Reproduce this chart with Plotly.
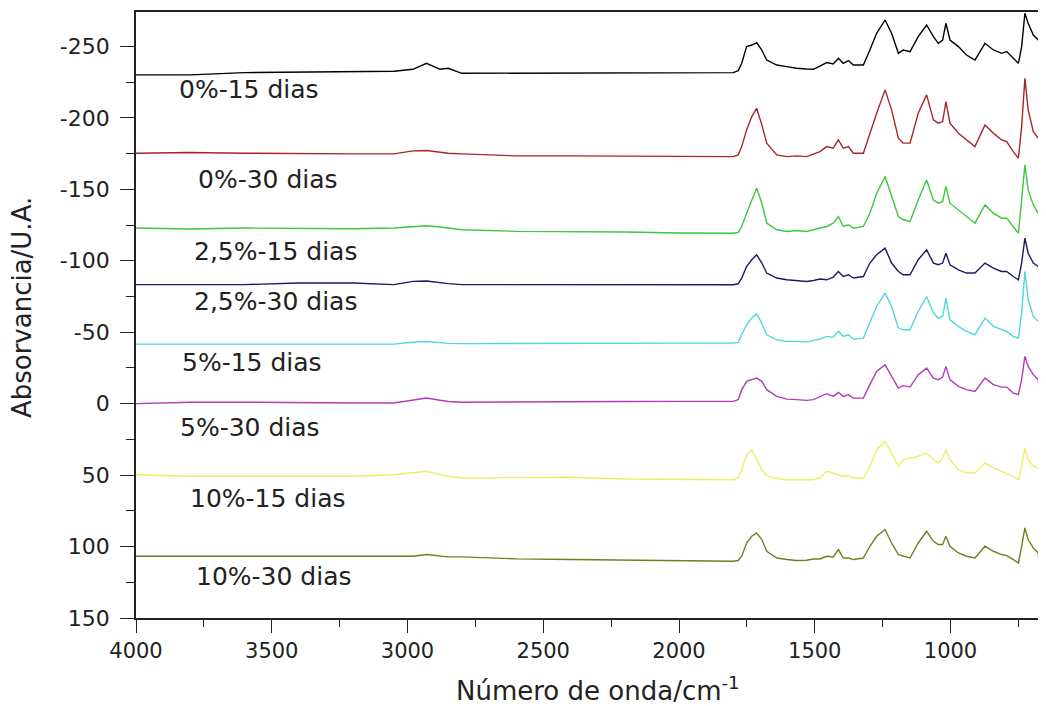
import plotly.graph_objects as go

# Wavenumbers (cm-1), shared by all spectra
wavenumber = [4000, 3800, 3600, 3400, 3200, 3050, 2980, 2930, 2880, 2850, 2800, 2600, 2400, 2200, 2000,
              1923, 1800, 1782, 1769, 1751, 1732, 1714, 1695, 1677, 1640, 1603, 1567, 1530, 1505, 1481,
              1456, 1432, 1413, 1395, 1376, 1358, 1321, 1297, 1272, 1241, 1217, 1192, 1174, 1149, 1119,
              1088, 1063, 1045, 1029, 1017, 1002, 971, 941, 910, 873, 842, 812, 793, 769, 750,
              738, 726, 714, 695, 677, 672, 667, 649]

abs_0_15 = [-230.1, -230.1, -231.7, -232.2, -232.6, -232.6, -234.0, -238.2, -234.0, -234.7, -231.2, -231.2, -231.2, -231.2, -231.4,
            -231.7, -231.7, -233.1, -238.2, -249.9, -251.0, -252.7, -247.5, -240.5, -237.0, -235.9, -234.7, -234.2, -234.0, -236.3,
            -238.7, -237.7, -241.7, -238.2, -240.1, -237.0, -237.0, -247.5, -259.2, -268.5, -259.2, -245.2, -247.5, -246.4, -256.9,
            -265.0, -256.9, -252.2, -254.5, -266.2, -254.5, -249.9, -244.0, -240.5, -252.2, -247.5, -245.2, -246.4, -241.7, -238.2,
            -249.9, -273.2, -266.2, -258.0, -254.5, -254.0, -253.5, -252.7]

abs_0_30 = [-175.3, -175.8, -175.3, -174.8, -174.8, -174.8, -176.9, -177.2, -175.8, -175.3, -174.8, -173.4, -173.4, -173.4, -173.0,
            -172.9, -172.9, -174.1, -179.9, -191.6, -200.9, -206.7, -195.1, -182.3, -174.1, -172.9, -173.4, -172.9, -174.8, -176.4,
            -179.9, -178.8, -184.6, -178.8, -179.9, -175.3, -175.3, -189.3, -203.2, -219.6, -205.6, -185.8, -182.3, -182.3, -203.2,
            -216.1, -198.6, -196.3, -197.4, -211.4, -196.3, -189.3, -184.6, -179.9, -195.1, -189.3, -184.6, -183.4, -176.4, -171.8,
            -193.9, -227.7, -205.6, -190.4, -185.8, -185.5, -185.2, -184.6]

abs_25_15 = [-122.9, -122.2, -122.9, -122.4, -122.4, -122.9, -124.0, -124.5, -123.6, -122.9, -121.7, -120.6, -120.6, -120.1, -119.4,
             -119.3, -119.3, -119.8, -124.0, -133.3, -142.6, -150.8, -140.3, -126.3, -121.7, -120.5, -121.2, -120.5, -121.7, -122.8,
             -124.0, -126.3, -131.0, -124.0, -125.2, -122.8, -124.0, -133.3, -147.3, -159.0, -145.0, -131.0, -128.7, -127.5, -142.6,
             -156.6, -142.6, -140.3, -141.5, -152.0, -140.3, -135.6, -131.0, -126.3, -139.1, -133.3, -129.8, -129.8, -124.0, -119.3,
             -142.6, -167.1, -149.6, -139.1, -133.3, -133.3, -133.3, -133.3]

abs_25_30 = [-83.3, -83.3, -83.3, -84.4, -84.4, -83.3, -85.6, -85.8, -84.4, -84.0, -83.3, -83.3, -83.3, -83.3, -83.3,
             -83.2, -83.2, -83.9, -87.9, -96.0, -100.7, -104.2, -98.4, -91.4, -87.9, -86.7, -86.2, -85.5, -86.2, -87.2,
             -86.7, -88.6, -92.5, -89.0, -90.2, -87.9, -89.0, -98.4, -104.2, -108.8, -98.4, -92.5, -90.2, -90.2, -100.7,
             -107.7, -98.4, -97.2, -98.4, -105.3, -97.2, -93.7, -91.4, -91.4, -98.4, -94.9, -92.5, -92.5, -89.0, -86.7,
             -98.4, -115.8, -105.3, -98.4, -96.0, -95.5, -95.2, -94.9]

abs_5_15 = [-41.7, -41.7, -41.7, -41.7, -41.7, -41.7, -43.0, -43.5, -42.7, -42.2, -42.0, -42.2, -42.2, -42.4, -42.4,
            -42.4, -42.4, -42.9, -48.2, -55.2, -59.9, -62.9, -56.4, -48.2, -44.7, -43.6, -43.6, -43.1, -44.3, -45.2,
            -47.1, -46.6, -50.6, -47.1, -48.2, -45.2, -45.9, -56.4, -68.0, -77.4, -68.0, -52.9, -51.7, -51.7, -64.5,
            -75.0, -63.4, -59.9, -61.0, -73.9, -58.7, -54.1, -50.6, -48.2, -59.9, -54.1, -51.7, -50.6, -47.1, -45.9,
            -63.4, -92.5, -72.7, -61.0, -57.5, -57.0, -56.7, -56.4]

abs_5_30 = [0.0, -1.0, -1.0, -0.5, -0.5, -0.5, -2.5, -4.0, -2.4, -1.5, -1.0, -1.0, -1.3, -1.5, -1.6,
            -1.6, -1.6, -2.8, -9.8, -15.6, -16.8, -17.9, -15.6, -9.8, -5.1, -3.2, -2.8, -2.3, -2.8, -5.1,
            -7.0, -5.1, -7.9, -5.1, -6.3, -3.9, -3.9, -13.3, -22.6, -27.2, -19.1, -10.9, -12.6, -11.6, -20.3,
            -24.9, -17.9, -16.8, -18.6, -26.1, -16.8, -12.1, -9.8, -8.6, -17.9, -13.3, -11.6, -11.6, -7.4, -6.3,
            -16.8, -33.1, -26.1, -20.3, -16.8, -3.9, -15.6, -15.6]

abs_10_15 = [49.7, 50.8, 50.8, 50.8, 50.8, 49.7, 48.5, 47.3, 49.7, 50.8, 52.0, 52.0, 51.5, 52.7, 53.2,
             53.2, 53.2, 52.0, 46.2, 35.7, 32.7, 38.7, 46.2, 50.4, 52.5, 53.2, 53.2, 53.2, 53.2, 52.0,
             47.3, 48.5, 49.7, 50.8, 50.4, 52.0, 52.0, 43.9, 32.2, 26.4, 34.5, 43.9, 39.2, 38.0, 36.9,
             34.5, 39.2, 41.5, 38.0, 32.2, 39.2, 46.2, 48.5, 48.5, 41.5, 45.0, 47.3, 48.5, 50.8, 53.2,
             43.9, 31.0, 39.2, 43.9, 45.0, 53.2, 46.2, 45.0]

abs_10_30 = [106.8, 106.8, 106.8, 106.8, 106.8, 107.2, 106.8, 105.6, 106.8, 107.2, 107.2, 108.6, 109.1, 109.6, 110.0,
             110.3, 110.3, 109.8, 106.8, 97.5, 92.8, 90.5, 95.1, 103.3, 108.0, 109.1, 109.8, 109.6, 108.7, 108.7,
             106.8, 107.3, 102.1, 108.0, 108.0, 109.1, 108.0, 99.8, 92.8, 88.1, 97.5, 105.6, 106.8, 108.0, 97.5,
             89.3, 96.3, 98.6, 98.6, 92.8, 99.8, 104.5, 106.8, 108.0, 99.8, 103.3, 105.6, 106.3, 109.1, 111.5,
             99.8, 87.0, 95.1, 101.0, 104.5, 116.1, 105.6, 106.8]

series_names = ["0%-15 dias", "0%-30 dias", "2,5%-15 dias", "2,5%-30 dias",
                "5%-15 dias", "5%-30 dias", "10%-15 dias", "10%-30 dias"]
series_values = [abs_0_15, abs_0_30, abs_25_15, abs_25_30, abs_5_15, abs_5_30, abs_10_15, abs_10_30]
series_colors = ["#000000", "#A8252B", "#3CC83C", "#1B1B66", "#4ED8DC", "#B23CB8", "#EEEE66", "#7A7A22"]

# label anchor points (wavenumber, absorbance)
label_x = [3584, 3514, 3488, 3488, 3573, 3580, 3514, 3492]
label_y = [-219.6, -156.6, -106.3, -71.3, -28.7, 16.8, 66.4, 121.0]

y_tick_vals = [-250, -200, -150, -100, -50, 0, 50, 100, 150]
y_tick_text = ["-250", "-200", "-150", "-100", "-50", "0", "50", "100", "150"]
x_tick_vals = [4000, 3500, 3000, 2500, 2000, 1500, 1000]
x_tick_text = ["4000", "3500", "3000", "2500", "2000", "1500", "1000"]

x_title = "Número de onda/cm<sup>-1</sup>"
y_title = "Absorvancia/U.A."

for v in series_values:
    assert len(v) == len(wavenumber), len(v)

font_family = "DejaVu Sans"
ink = "#222222"

fig = go.Figure()
for name, vals, col in zip(series_names, series_values, series_colors):
    fig.add_trace(go.Scatter(x=wavenumber, y=vals, mode="lines", name=name,
                             line=dict(color=col, width=1.4), showlegend=False))

for txt, lx, ly in zip(series_names, label_x, label_y):
    fig.add_annotation(x=lx, y=ly, text=txt, showarrow=False, xanchor="center", yanchor="middle",
                       font=dict(family=font_family, size=25, color=ink))

# axis titles
fig.add_annotation(xref="paper", yref="paper", x=-0.1253, y=0.513, text=y_title, textangle=-90,
                   showarrow=False, xanchor="center", yanchor="middle",
                   font=dict(family=font_family, size=26, color=ink))
fig.add_annotation(xref="paper", yref="paper", x=0.5077, y=-0.117, text=x_title,
                   showarrow=False, xanchor="center", yanchor="middle",
                   font=dict(family=font_family, size=26, color=ink))

# the page body adds an 8 px margin, so the figure is sized/offset to compensate
fig.update_layout(
    width=1038, height=698,
    margin=dict(l=128, r=0, t=4, b=88, autoexpand=False),
    paper_bgcolor="white", plot_bgcolor="white",
    font=dict(family=font_family, color=ink),
    xaxis=dict(range=[4000, 648.3], tickvals=x_tick_vals, ticktext=x_tick_text, automargin=False,
               showline=True, linecolor=ink, linewidth=1.6, mirror=True,
               ticks="outside", ticklen=13, tickwidth=1.4, tickcolor=ink,
               minor=dict(dtick=250, tick0=0, ticks="outside", ticklen=7, tickwidth=1.4, tickcolor=ink),
               showgrid=False, zeroline=False,
               tickfont=dict(size=21, family=font_family, color=ink)),
    yaxis=dict(range=[150, -274.1], tickvals=y_tick_vals, ticktext=y_tick_text, automargin=False,
               showline=True, linecolor=ink, linewidth=1.6, mirror=False,
               ticks="outside", ticklen=14, tickwidth=1.4, tickcolor=ink, ticklabelstandoff=6,
               minor=dict(dtick=25, tick0=0, ticks="outside", ticklen=8, tickwidth=1.4, tickcolor=ink),
               showgrid=False, zeroline=False,
               tickfont=dict(size=22, family=font_family, color=ink)),
)

fig.write_html("out.html")
